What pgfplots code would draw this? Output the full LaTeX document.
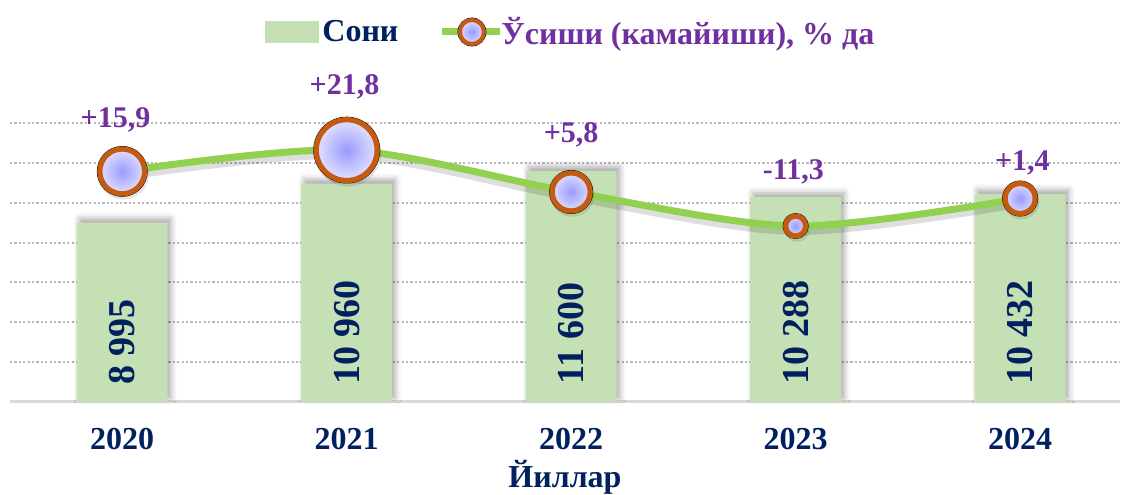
\documentclass[border=0pt]{standalone}
\usepackage{pgfplots}
\pgfplotsset{compat=1.18}
\usepackage{pgfplotstable}
\usepackage{fontspec}
\setmainfont{Liberation Serif}
\usetikzlibrary{shadows.blur}
\definecolor{barc}{HTML}{C5E0B4}
\definecolor{navy}{HTML}{002060}
\definecolor{purp}{HTML}{7030A0}
\definecolor{linec}{HTML}{92D050}
\definecolor{ringc}{HTML}{C55A11}
\definecolor{blueA}{HTML}{9A9AFF}
\definecolor{blueB}{HTML}{E8E8FF}
\newcommand\fs[1]{\fontsize{#1}{#1}\selectfont}

\pgfplotstableread{
x n
0 8995
1 10960
2 11600
3 10288
4 10432
}\bars

% y = marker position on the bar scale, r = marker radius (pt), lx/ly = label position
\pgfplotstableread{
x y r lab lx ly
0 11570 12.5 +15,9 -0.03 14170
1 12640 16.5 +21,8 0.99 15800
2 10540 10.8 +5,8 2 13400
3 8830 6.3 -11,3 2.99 11540
4 10210 8.8 +1,4 4.01 12020
}\growth

\begin{document}
\begin{tikzpicture}
\begin{axis}[
  name=ax, scale only axis, width=555pt, height=139.5pt,
  xmin=-0.5, xmax=4.445, ymin=0, ymax=14000, clip=false,
  axis x line*=bottom, axis y line*=left,
  y axis line style={draw=none},
  x axis line style={draw=gray!30, line width=1.5pt},
  xtick={0,1,2,3,4}, xticklabels={2020,2021,2022,2023,2024},
  ytick={2000,4000,...,14000}, yticklabels={}, scaled y ticks=false,
  major tick length=0pt,
  ymajorgrids, grid style={draw=gray!55, line width=1pt, dash pattern=on 1.1pt off 1.1pt},
  xticklabel style={font=\bfseries\fs{16}, text=navy, inner sep=0pt, anchor=north, yshift=-13pt},
  xlabel={Йиллар},
  xlabel style={font=\bfseries\fs{16}, text=navy, inner sep=0pt, anchor=north,
    at={(axis description cs:0.5,0)}, yshift=-29pt},
  legend style={at={(0.5,1)}, anchor=center, xshift=3.25pt, yshift=45.5pt, draw=none, fill=none,
    legend columns=2, font=\bfseries\fs{16},
    /tikz/every even column/.append style={column sep=18pt}},
]
\addlegendimage{legend image code/.code={\fill[barc] (0pt,-5.25pt) rectangle (26.5pt,5.25pt);}}
\addlegendentry{\textcolor{navy}{Сони}}
\addlegendimage{legend image code/.code={%
  \draw[linec, line width=3.5pt] (0pt,0pt) -- (29pt,0pt);
  \shade[inner color=blueA, outer color=blueB] (15pt,0pt) circle[radius=7pt];
  \draw[ringc, line width=2pt] (15pt,0pt) circle[radius=6pt];}}
\addlegendentry{\hspace*{-3pt}\textcolor{purp}{Ўсиши (камайиши), \% да}}

\addplot[ybar, bar width=45.5pt, fill=barc, draw=none, forget plot,
  blur shadow={shadow xshift=1.5pt, shadow yshift=2pt, shadow blur radius=3pt, shadow opacity=35}]
  table[x=x, y=n] {\bars};

\addplot[draw=none, mark=none, forget plot, point meta=explicit,
  nodes near coords={\pgfmathprintnumber[fixed, precision=0, 1000 sep={\ }, assume math mode=true]{\pgfplotspointmeta}},
  every node near coord/.append style={rotate=90, anchor=west, inner sep=0pt, inner xsep=8.5pt,
    font=\bfseries\fs{19}, text=navy}]
  table[x=x, y expr=0, meta=n] {\bars};

\addplot[smooth, black, opacity=0.13, line width=4pt, yshift=-2.5pt, forget plot]
  table[x=x, y=y] {\growth};
\addplot[smooth, linec, line width=3.5pt, forget plot] table[x=x, y=y] {\growth};

\addplot[only marks, scatter, mark=*, forget plot,
  visualization depends on={\thisrow{r} \as \rad},
  scatter/@pre marker code/.code={%
    \fill[black, opacity=0.08] (0.6pt,-1.4pt) circle[radius=\rad pt];
    \shade[inner color=blueA, outer color=blueB] (0pt,0pt) circle[radius=\rad pt];
    \draw[ringc, line width=2.6pt] (0pt,0pt) circle[radius=\rad pt-1.3pt];
    \scope[opacity=0]},
  scatter/@post marker code/.code={\endscope}]
  table[x=x, y=y] {\growth};

\addplot[draw=none, mark=none, forget plot, nodes near coords={\pgfplotspointmeta},
  point meta=explicit symbolic,
  every node near coord/.append style={anchor=center, inner sep=0pt, font=\bfseries\fs{15}, text=purp}]
  table[x=lx, y=ly, meta=lab] {\growth};
\end{axis}
\pgfresetboundingbox
\path ([xshift=-5pt,yshift=-46.5pt]ax.south west) rectangle ([xshift=1.5pt,yshift=61.5pt]ax.north east);
\end{tikzpicture}
\end{document}
